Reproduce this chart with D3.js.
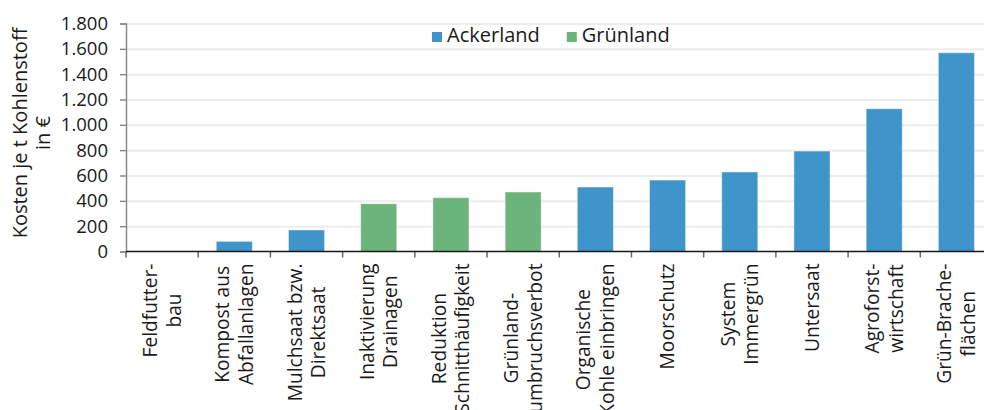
<!DOCTYPE html>
<html>
<head>
<meta charset="utf-8">
<script src="https://cdn.jsdelivr.net/npm/d3@7"></script>
<style>
  body { margin: 0; background: #fff; }
  text { font-family: "Open Sans", sans-serif; fill: #1a1a1a; }
</style>
</head>
<body>
<div id="chart"></div>
<script>
// Kategorien, Werte und Gruppen
const categories = [
    "Feldfutterbau", "Kompost aus Abfallanlagen", "Mulchsaat bzw. Direktsaat",
    "Inaktivierung Drainagen", "Reduktion Schnitthäufigkeit", "Grünlandumbruchsverbot",
    "Organische Kohle einbringen", "Moorschutz", "System Immergrün",
    "Untersaat", "Agroforstwirtschaft", "Grün-Brachefächen"
];
const labelLines = [
    ["Feldfutter-", "bau"],
    ["Kompost aus", "Abfallanlagen"],
    ["Mulchsaat bzw.", "Direktsaat"],
    ["Inaktivierung", "Drainagen"],
    ["Reduktion", "Schnitthäufigkeit"],
    ["Grünland-", "umbruchsverbot"],
    ["Organische", "Kohle einbringen"],
    ["Moorschutz"],
    ["System", "Immergrün"],
    ["Untersaat"],
    ["Agroforst-", "wirtschaft"],
    ["Grün-Brache-", "flächen"]
];
const values = [0, 80, 170, 377, 425, 470, 509, 564, 628, 793, 1127, 1569];
const groups = [
    "Ackerland", "Ackerland", "Ackerland", "Grünland", "Grünland", "Grünland",
    "Ackerland", "Ackerland", "Ackerland", "Ackerland", "Ackerland", "Ackerland"
];
const yTicks = [0, 200, 400, 600, 800, 1000, 1200, 1400, 1600, 1800];
const legendKeys = ["Ackerland", "Grünland"];
const yLabel = ["Kosten je t Kohlenstoff", "in €"];

const W = 984, H = 410;
const margin = {top: 23.5, right: -8.5, bottom: 158.5, left: 126};
const width = W - margin.left - margin.right,
      height = H - margin.top - margin.bottom;

const color = d3.scaleOrdinal()
    .domain(legendKeys)
    .range(["#3f95c9", "#6db47c"]);

const de = d3.formatLocale({decimal: ",", thousands: ".", grouping: [3], currency: ["", " €"]});
const fmt = de.format(",d");

const svg = d3.select("#chart")
    .append("svg")
        .attr("width", W)
        .attr("height", H)
    .append("g")
        .attr("transform", `translate(${margin.left},${margin.top})`);

const x = d3.scaleBand()
    .domain(categories)
    .range([0, width])
    .paddingInner(0.5)
    .paddingOuter(0.25);

const y = d3.scaleLinear()
    .domain([0, 1800])
    .range([height, 0]);

// Gitterlinien
svg.append("g")
    .call(d3.axisLeft(y).tickValues(yTicks).tickSize(-width).tickFormat(""))
    .call(g => g.select(".domain").remove())
    .call(g => g.selectAll(".tick line")
        .attr("stroke", "#ececec")
        .attr("stroke-width", 2)
        .filter(d => d === 0).remove());

// Balken
svg.selectAll(".bar")
    .data(values)
    .enter().append("rect")
        .attr("class", "bar")
        .attr("x", (d, i) => x(categories[i]))
        .attr("y", d => y(d))
        .attr("width", x.bandwidth())
        .attr("height", d => height - y(d))
        .attr("fill", (d, i) => color(groups[i]))
        .attr("stroke", "#ffffff")
        .attr("stroke-opacity", 0.45)
        .attr("stroke-width", 1);

// y-Achse
svg.append("g")
    .call(d3.axisLeft(y).tickValues(yTicks).tickSize(6).tickPadding(12).tickFormat(fmt))
    .call(g => g.select(".domain").attr("stroke", "#8a8a8a").attr("stroke-width", 1.5))
    .call(g => g.selectAll(".tick line").attr("stroke", "#8a8a8a").attr("stroke-width", 1.5))
    .call(g => g.selectAll(".tick text")
        .attr("font-family", "Open Sans")
        .attr("font-size", 18.5)
        .attr("fill", "#1a1a1a"));

// x-Achse: Linie und Striche an den Bandgrenzen
const step = x.step();
const x0 = x(categories[0]) - step * x.paddingOuter();
const xAxis = svg.append("g").attr("transform", `translate(0,${height})`);
xAxis.selectAll(".xtick")
    .data(d3.range(categories.length + 1))
    .enter().append("line")
        .attr("x1", i => x0 + i * step)
        .attr("x2", i => x0 + i * step)
        .attr("y1", 0)
        .attr("y2", 6)
        .attr("stroke", "#6a6a6a")
        .attr("stroke-width", 1.5);
xAxis.append("line")
    .attr("x1", 0)
    .attr("x2", width)
    .attr("stroke", "#1a1a1a")
    .attr("stroke-width", 1.5);

// Kategorie-Beschriftungen (um -90° gedreht, zentriert)
const fs = 20;
const lh = 23.4;
const labels = xAxis.selectAll(".xlabel")
    .data(categories)
    .enter().append("g")
        .attr("class", "xlabel")
        .attr("transform", d => `translate(${x(d) + x.bandwidth() / 2},12) rotate(-90)`);

labels.each(function(d, i) {
    const g = d3.select(this);
    const lines = labelLines[i];
    const t = lines.map((s, k) => g.append("text")
        .attr("text-anchor", "middle")
        .attr("font-size", 19.2)
        .attr("y", (k - (lines.length - 1) / 2) * lh)
        .attr("dy", "0.35em")
        .text(s));
    const maxLen = d3.max(t, n => n.node().getComputedTextLength());
    t.forEach(n => n.attr("x", -maxLen / 2));
});

// y-Achsentitel
const yt = d3.select("svg").append("g")
    .attr("transform", "translate(0,133) rotate(-90)");
yLabel.forEach((s, k) => {
    yt.append("text")
        .attr("text-anchor", "middle")
        .attr("font-size", fs)
        .attr("y", 27 + k * 23.4)
        .text(s);
});

// Legende
const legend = d3.select("svg").append("g")
    .attr("transform", "translate(432,32)");
let lx = 0;
legendKeys.forEach(k => {
    const item = legend.append("g").attr("transform", `translate(${lx},0)`);
    item.append("rect")
        .attr("width", 10)
        .attr("height", 10)
        .attr("fill", color(k));
    const txt = item.append("text")
        .attr("x", 15)
        .attr("y", 10)
        .attr("font-size", fs)
        .text(k);
    lx += 15 + txt.node().getComputedTextLength() + 27;
});
</script>
</body>
</html>
